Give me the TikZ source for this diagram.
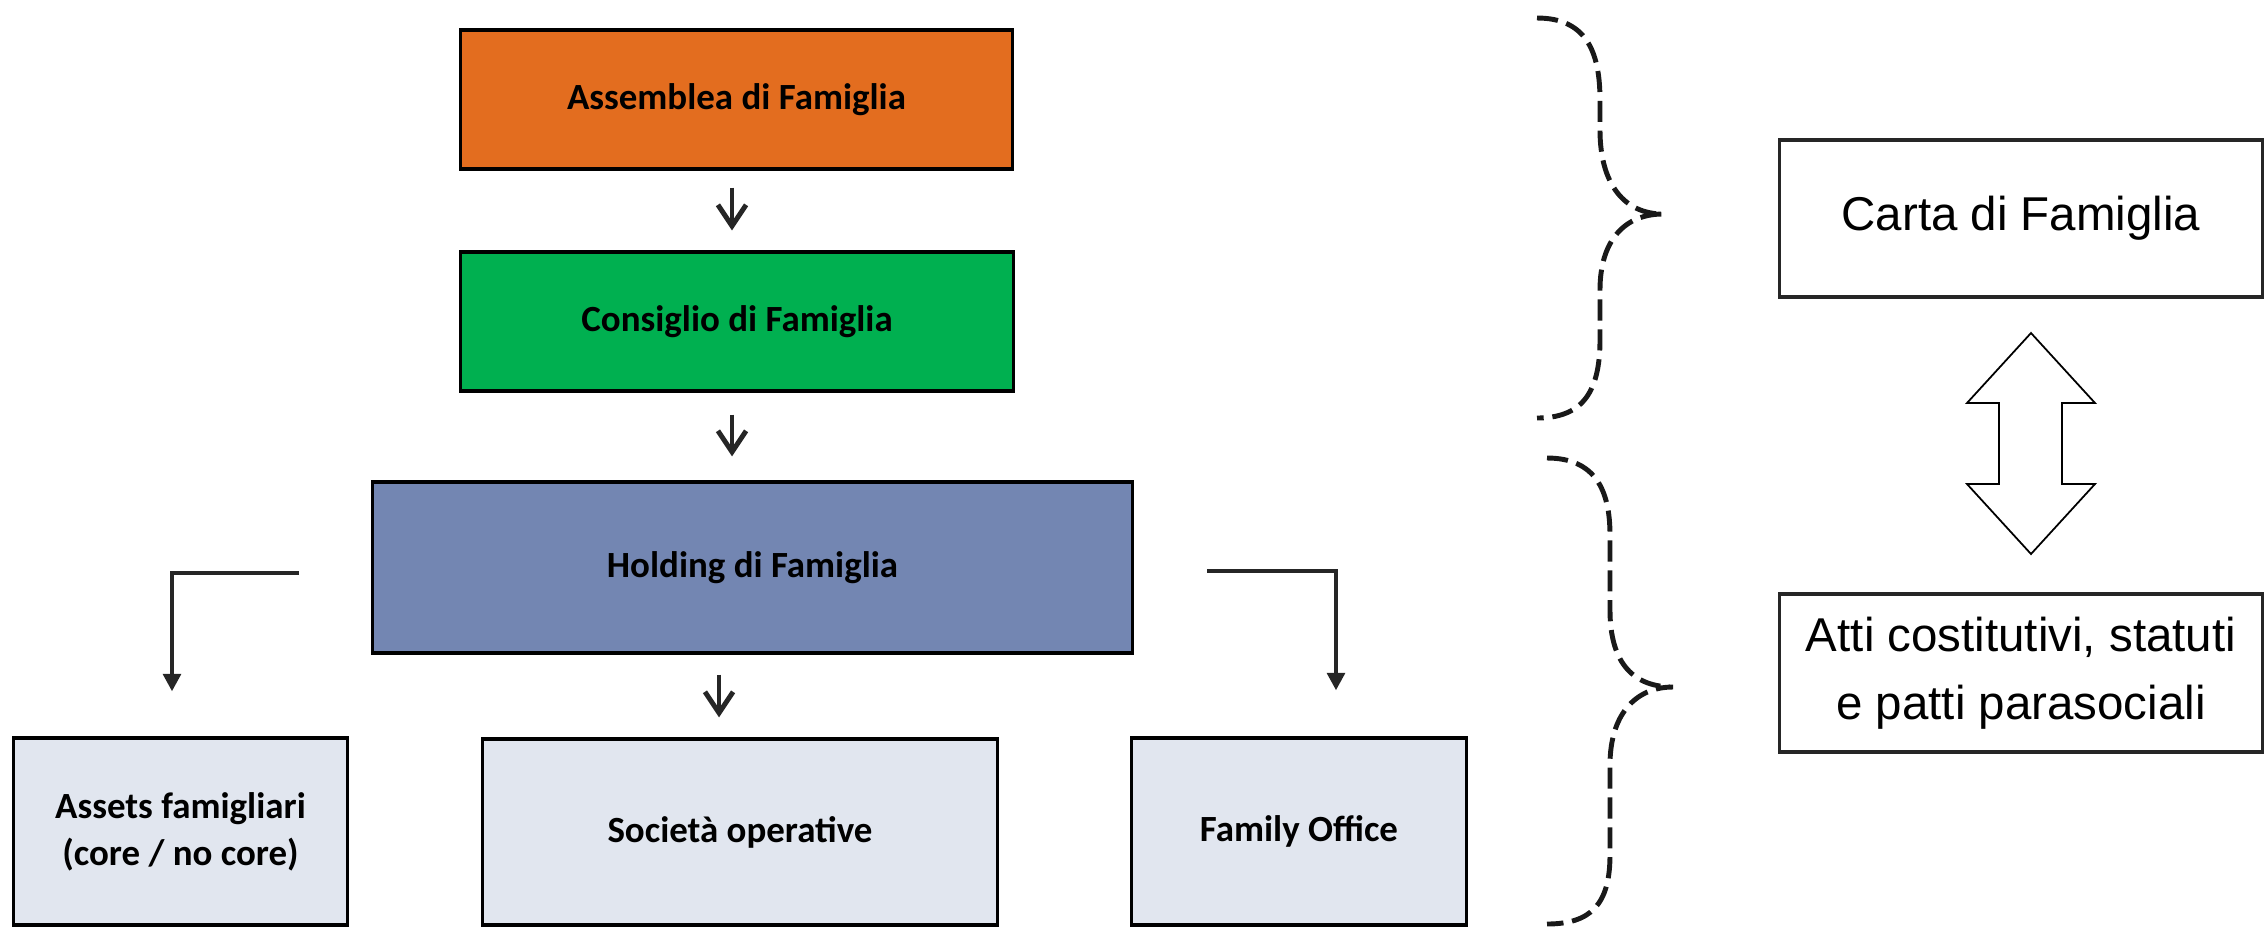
\documentclass[tikz,border=0pt]{standalone}
\usepackage{fontspec}
\setmainfont{Liberation Sans}
\newfontfamily\calibfont{Carlito}
\usetikzlibrary{arrows.meta,calc}
\definecolor{orangebox}{HTML}{E36D1F}
\definecolor{greenbox}{HTML}{00B050}
\definecolor{bluebox}{HTML}{7386B2}
\definecolor{lightbox}{HTML}{E1E6EF}
\definecolor{darkline}{HTML}{262626}
\begin{document}
\begin{tikzpicture}[x=0.01cm,y=-0.01cm,
  orgbox/.style={draw=black, line width=0.9pt, inner sep=0pt, align=center,
    font=\calibfont\bfseries\fontsize{10.5}{13.4}\selectfont},
  docbox/.style={draw=black!85, line width=0.9pt, inner sep=0pt, align=center,
    font=\fontsize{13.5}{19.3}\selectfont, minimum width=4.82cm},
  downarrow/.style={draw=darkline, line width=1.4pt,
    -{Straight Barb[length=6pt,width=8pt,line width=1.4pt]}},
  elbowarrow/.style={draw=darkline, line width=1.3pt, -{Triangle[length=5pt,width=5pt]}},
  bracestyle/.style={draw=black!90, line width=1.4pt, dash pattern=on 6pt off 2.5pt},
]
\useasboundingbox (0,0) rectangle (2265,926);

% organisation boxes
\node[orgbox, fill=orangebox, minimum width=5.51cm, minimum height=1.39cm] (ass) at (736.5,99.5) {Assemblea di Famiglia};
\node[orgbox, fill=greenbox, minimum width=5.52cm, minimum height=1.39cm] (cons) at (737,321.5) {Consiglio di Famiglia};
\node[orgbox, fill=bluebox, minimum width=7.59cm, minimum height=1.71cm] (hold) at (752.5,567.5) {Holding di Famiglia};
\node[orgbox, fill=lightbox, minimum width=3.33cm, minimum height=1.87cm] (assets) at (180.5,831.5) {Assets famigliari\\(core / no core)};
\node[orgbox, fill=lightbox, minimum width=5.14cm, minimum height=1.86cm] (soc) at (740,832) {Società operative};
\node[orgbox, fill=lightbox, minimum width=3.34cm, minimum height=1.87cm] (fo) at (1299,831.5) {Family Office};

% document boxes
\node[docbox, minimum height=1.57cm] (carta) at (2021,218.5) {Carta di Famiglia};
\node[docbox, minimum height=1.58cm] (atti) at (2021,673) {Atti costitutivi, statuti\\e patti parasociali};

% vertical arrows
\coordinate (ax) at (732,0);
\coordinate (mx) at (719,0);
\draw[downarrow, shorten <=0.17cm, shorten >=0.2cm] (ass.south -| ax) -- (cons.north -| ax);
\draw[downarrow, shorten <=0.22cm, shorten >=0.24cm] (cons.south -| ax) -- (hold.north -| ax);
\draw[downarrow, shorten <=0.2cm, shorten >=0.2cm] (hold.south -| mx) -- (soc.north -| mx);

% elbow arrows
\coordinate (lstart) at (299,573);
\coordinate (rstart) at (1207,571);
\draw[elbowarrow] (lstart) -| ($(assets.north)+(-8.5,-45)$);
\draw[elbowarrow] (rstart) -| ($(fo.north)+(37,-46)$);

% dashed braces
\draw[bracestyle] (1537,18) .. controls (1585,18) and (1600,50) .. (1600,100)
  -- (1600,130) .. controls (1600,185) and (1625,214) .. (1663,214)
  .. controls (1625,214) and (1600,240) .. (1600,290)
  -- (1600,340) .. controls (1600,395) and (1580,418) .. (1537,418);
\draw[bracestyle] (1547,458) .. controls (1595,458) and (1610,490) .. (1610,535)
  -- (1610,610) .. controls (1610,665) and (1635,687) .. (1673,687)
  .. controls (1635,687) and (1610,715) .. (1610,765)
  -- (1610,855) .. controls (1610,905) and (1590,924) .. (1547,924);

% double arrow
\draw[line width=0.5pt, fill=white] (2031,333) -- (2095,403) -- (2062,403) -- (2062,484)
  -- (2095,484) -- (2031,554) -- (1967,484) -- (1999,484) -- (1999,403) -- (1967,403) -- cycle;
\end{tikzpicture}
\end{document}
